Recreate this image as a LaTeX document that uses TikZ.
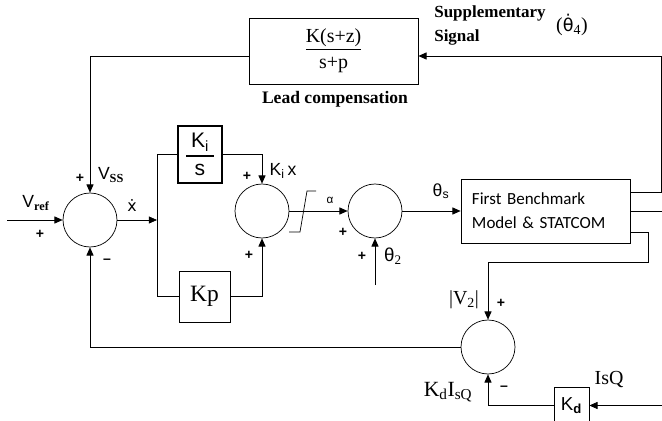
\documentclass[tikz,border=0pt]{standalone}
\usepackage{fontspec}
\setmainfont{Liberation Serif}
\setsansfont{Liberation Sans}
\newfontfamily\calfont{Carlito}
\newfontfamily\djvfont{DejaVu Sans}
\usepackage{tikz}
\usetikzlibrary{arrows.meta, positioning}

\tikzset{
  sumnode/.style={draw, circle, minimum size=1.62cm, inner sep=0pt},
  blk/.style={draw, rectangle, inner sep=0pt},
  sig/.style={-{Triangle[length=7pt,width=6pt]}},
  lbl/.style={font=\sffamily\fontsize{15}{17}\selectfont, inner sep=0pt},
  tlbl/.style={font=\fontsize{17}{19}\selectfont, inner sep=0pt},
  sgn/.style={font=\sffamily\bfseries\fontsize{12}{12}\selectfont, inner sep=0pt},
  note/.style={font=\bfseries\fontsize{14.5}{20.5}\selectfont, inner sep=0pt},
}

\begin{document}
\begin{tikzpicture}[x=0.03cm, y=-0.03cm, line width=0.6pt]
  \clip (0,0) rectangle (662,421);
  %% Blocks (positions in pixels of the 662x421 sketch)
  \node[blk, minimum width=5.07cm, minimum height=1.98cm, align=center,
        font=\fontsize{17}{22}\selectfont] (lead) at (333.5,51) {\underline{K(s+z)}\\s+p};
  \node[blk, line width=1.4pt, minimum width=1.32cm, minimum height=1.71cm, align=center,
        font=\sffamily\fontsize{18}{18}\selectfont] (ki) at (200,154.5)
        {K\textsubscript{i}\\[-10pt]\rule{0.84cm}{1.6pt}\\[-2pt]s};
  \node[blk, minimum width=1.53cm, minimum height=1.53cm,
        font=\fontsize{20}{22}\selectfont] (kp) at (204.5,296.5) {Kp};
  \node[blk, minimum width=5.07cm, minimum height=1.92cm, inner xsep=0.33cm,
        text width=4.41cm, align=left, font=\calfont\fontsize{14.5}{20.5}\selectfont]
        (plant) at (545.5,211) {First Benchmark\\Model \& STATCOM};
  \node[blk, minimum width=1.05cm, minimum height=1.11cm,
        font=\sffamily\fontsize{16}{17}\selectfont] (kd) at (571.5,405.5) {K\textsubscript{\bfseries d}};

  % Summing junctions
  \node[sumnode] (s1) at (90,220) {};
  \node[sumnode] (s2) at (262,211) {};
  \node[sumnode] (s3) at (375,211) {};
  \node[sumnode] (s4) at (488,347) {};

  % Free ends
  \coordinate (vin) at (7,220);
  \coordinate (jx) at (157,220);
  \coordinate (th2in) at (375,285);
  \coordinate (out) at (662,211);
  \coordinate (isqin) at (662,405.5);

  % Forward path
  \draw[sig] (vin) -- (s1.west);
  \draw[sig] (s1.east) -- (jx);
  \draw (jx |- ki.west) -- (jx |- kp.west);
  \draw (jx |- ki.west) -- (ki.west);
  \draw (jx |- kp.west) -- (kp.west);
  \draw[sig] (ki.east) -| (s2.north);
  \draw[sig] (kp.east) -| (s2.south);
  \draw[sig] (s2.east) -- (s3.west);
  \draw (289,232) -- (300,232) -- (307,191) -- (316,191); % limiter
  \draw[sig] (th2in) -- (s3.south);
  \draw[sig] (s3.east) -- (plant.west);

  % Feedback paths
  \draw[sig] ([yshift=0.57cm]plant.east) -- ++(31,0) |- ([yshift=-0.15cm]lead.east);
  \draw (plant.east) -- (out);
  \draw[sig] ([yshift=-0.63cm]plant.east) -- ++(18,0) -- ++(0,30) -| (s4.north);
  \draw[sig] ([yshift=-0.15cm]lead.west) -| (s1.north);
  \draw[sig] (s4.west) -| (s1.south);
  \draw[sig] (isqin) -- (kd.east);
  \draw[sig] (kd.west) -| (s4.south);

  % Signs
  \foreach \sx/\sy/\sg [count=\i] in {40/234/+, 80/178/+, 107/261/--, 247/176/+, 249/255/+,
                                      343/232/+, 362/256/+, 501/303/+, 504/388/--}{
    \node[sgn] (sg\i) at (\sx,\sy) {\sg};
  }

  % Signal labels
  \node[lbl] (vref) at (36,203) {V\textsubscript{\rmfamily\bfseries ref}};
  \node[lbl] (vss) at (111,175) {V\textsubscript{\rmfamily\bfseries SS}};
  \node[lbl, font=\djvfont\fontsize{13.5}{15}\selectfont] (xdot) at (132,205) {ẋ};
  \node[lbl] (kix) at (283,171) {K\textsubscript{i}\,x};
  \node[lbl, font=\sffamily\fontsize{10}{12}\selectfont] (alpha) at (330,200) {α};
  \node[lbl, font=\sffamily\fontsize{16}{18}\selectfont] (th2) at (393,256) {θ\textsubscript{\rmfamily 2}};
  \node[lbl] (ths) at (441,191) {θ\textsubscript{s}};
  \node[tlbl] (v2) at (464,300) {|V\textsubscript{2}|};
  \node[tlbl, font=\fontsize{18.5}{20}\selectfont] (kdisq) at (448,392) {K\textsubscript{d}I\textsubscript{sQ}};
  \node[tlbl] (isq) at (609,380) {IsQ};
  \node[note, font=\bfseries\fontsize{15}{20.5}\selectfont] (leadlbl) at (335,99) {Lead compensation};
  \node[note, align=left] (supp) at (490,25) {Supplementary\\Signal};
  \node[tlbl] (th4) at (572,25) {({\djvfont\fontsize{15}{17}\selectfont θ̇}\textsubscript{4})};
\end{tikzpicture}
\end{document}
